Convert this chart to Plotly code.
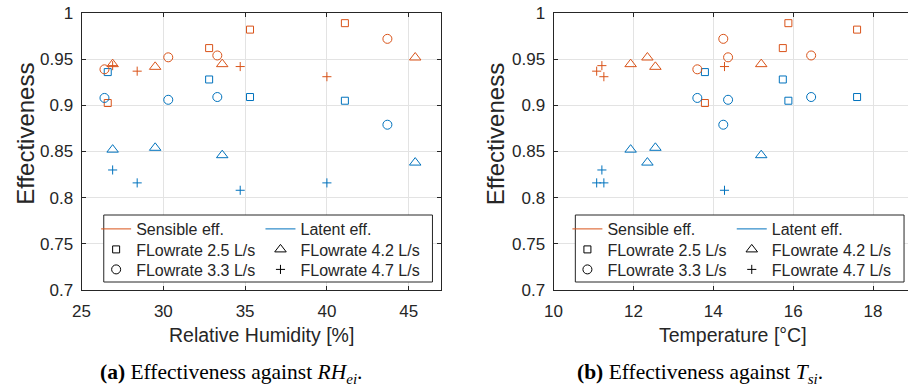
import plotly.graph_objects as go

# ---------------- data ----------------
flow_labels = ["FLowrate 2.5 L/s", "FLowrate 3.3 L/s", "FLowrate 4.2 L/s", "FLowrate 4.7 L/s"]

rh_25 = [26.6, 32.8, 35.3, 41.1]
t_25 = [13.79, 15.74, 17.6, 15.88]
sens_25 = [0.9025, 0.962, 0.982, 0.989]
lat_25 = [0.936, 0.928, 0.909, 0.905]

rh_33 = [26.4, 30.3, 33.3, 43.7]
t_33 = [13.6, 14.37, 16.45, 14.25]
sens_33 = [0.939, 0.952, 0.954, 0.972]
lat_33 = [0.908, 0.906, 0.909, 0.879]

rh_42 = [26.9, 29.5, 33.6, 45.4]
t_42 = [11.93, 12.55, 15.2, 12.35]
sens_42 = [0.9446, 0.9417, 0.9446, 0.9518]
lat_42 = [0.852, 0.854, 0.846, 0.838]

rh_47 = [26.9, 28.4, 34.7, 40.0]
t_47 = [11.21, 11.08, 14.28, 11.26]
sens_47 = [0.943, 0.937, 0.942, 0.931]
lat_47 = [0.830, 0.816, 0.808, 0.816]

y_ticks = [0.7, 0.75, 0.8, 0.85, 0.9, 0.95, 1]
rh_ticks = [25, 30, 35, 40, 45]
t_ticks = [10, 12, 14, 16, 18]

# ---------------- style ----------------
W, H = 908, 389
T_M, B_M = 13, 99
PH = H - T_M - B_M
ORANGE = "#D95319"
BLUE = "#0072BD"
AX = "#262626"
GRID = "#e3e3e3"
SANS = "Liberation Sans, Arial, sans-serif"
SERIF = "Liberation Serif, Times New Roman, serif"

def xp(px):
    return px / W

def yp(py):
    return (H - B_M - py) / PH

groups = [
    (rh_25, t_25, sens_25, lat_25, "square-open", 7),
    (rh_33, t_33, sens_33, lat_33, "circle-open", 9),
    (rh_42, t_42, sens_42, lat_42, "triangle-up-open", 10),
    (rh_47, t_47, sens_47, lat_47, "cross-thin-open", 6.5),
]

fig = go.Figure()

for (rh, t, se, la, sym, sz) in groups:
    for xs, xa in ((rh, "x"), (t, "x2")):
        ya = "y" if xa == "x" else "y2"
        for ys, col in ((se, ORANGE), (la, BLUE)):
            fig.add_trace(go.Scatter(
                x=xs, y=ys, mode="markers", xaxis=xa, yaxis=ya,
                marker=dict(symbol=sym, size=sz, color=col,
                            line=dict(color=col, width=1)),
                showlegend=False, hoverinfo="skip"))

# ---------------- legends (one entry per legend, grid layout) ----------------
entries = [
    ("Sensible eff.", "lines", ORANGE, None, None),
    ("Latent eff.", "lines", BLUE, None, None),
    (flow_labels[0], "markers", "black", "square-open", 7),
    (flow_labels[2], "markers", "black", "triangle-up-open", 10),
    (flow_labels[1], "markers", "black", "circle-open", 9),
    (flow_labels[3], "markers", "black", "cross-thin-open", 6.5),
]
row_py = [229, 249.5, 269.5]
legend_layouts = {}
k = 0
for panel, (x0, xa, ya) in enumerate(((88, "x", "y"), (564, "x2", "y2"))):
    for i, (name, mode, col, sym, sz) in enumerate(entries):
        k += 1
        lname = "legend" if k == 1 else f"legend{k}"
        row, colidx = divmod(i, 2)
        if mode == "lines":
            tr = go.Scatter(x=[None], y=[None], mode="lines", name=name,
                            line=dict(color=col, width=1), xaxis=xa, yaxis=ya,
                            legend=lname, showlegend=True)
        else:
            tr = go.Scatter(x=[None], y=[None], mode="markers", name=name,
                            marker=dict(symbol=sym, size=sz, color=col,
                                        line=dict(color=col, width=1)),
                            xaxis=xa, yaxis=ya, legend=lname, showlegend=True)
        fig.add_trace(tr)
        legend_layouts[lname] = dict(
            x=xp(x0 + colidx * 166), xanchor="left",
            y=yp(row_py[row]), yanchor="middle",
            bgcolor="rgba(0,0,0,0)", borderwidth=0,
            font=dict(family=SANS, size=16, color=AX),
            itemwidth=30, itemclick=False, itemdoubleclick=False)

# legend boxes
shapes = []
for bx0, bx1 in ((95.7, 427.7), (572, 904)):
    shapes.append(dict(type="rect", xref="paper", yref="paper",
                       x0=xp(bx0), x1=xp(bx1), y0=yp(282), y1=yp(215),
                       line=dict(color=AX, width=1), fillcolor="white",
                       layer="above"))

axis_common = dict(showgrid=True, gridcolor=GRID, gridwidth=1, zeroline=False,
                   showline=True, linecolor=AX, linewidth=1,
                   ticks="inside", ticklen=4, tickcolor=AX,
                   tickfont=dict(family=SANS, size=17, color=AX))

fig.update_layout(
    width=W, height=H,
    margin=dict(l=0, r=0, t=T_M, b=B_M, pad=0),
    paper_bgcolor="white", plot_bgcolor="white",
    hovermode=False,
    xaxis=dict(domain=[xp(73.3), xp(436.7)], range=[25, 47], tickvals=rh_ticks,
               anchor="y", mirror="ticks", ticklabelstandoff=6, **axis_common),
    yaxis=dict(domain=[0, 1], range=[0.7, 1], tickvals=y_ticks, anchor="x",
               mirror="ticks", ticklabelstandoff=4, **axis_common),
    xaxis2=dict(domain=[xp(550), 1], range=[10, 18.875], tickvals=t_ticks,
                anchor="y2", mirror="ticks", ticklabelstandoff=6, **axis_common),
    yaxis2=dict(domain=[0, 1], range=[0.7, 1], tickvals=y_ticks, anchor="x2",
                mirror=False, ticklabelstandoff=4, **axis_common),
    shapes=shapes,
    showlegend=True,
    **legend_layouts,
)

annotations = [
    dict(text="Relative Humidity [%]", x=xp(255), y=yp(335), xanchor="center", yanchor="middle",
         font=dict(family=SANS, size=19.5, color=AX)),
    dict(text="Temperature [°C]", x=xp(731.5), y=yp(335), xanchor="center", yanchor="middle",
         font=dict(family=SANS, size=19.5, color=AX)),
    dict(text="Effectiveness", x=xp(16), y=yp(134), xanchor="center", yanchor="middle",
         textangle=-90, font=dict(family=SANS, size=24, color=AX)),
    dict(text="Effectiveness", x=xp(491), y=yp(134), xanchor="center", yanchor="middle",
         textangle=-90, font=dict(family=SANS, size=24, color=AX)),
    dict(text="<b>(a)</b> Effectiveness against <i>RH</i><sub><i>ei</i></sub>.",
         x=xp(90), y=yp(374), xanchor="left", yanchor="middle",
         font=dict(family=SERIF, size=21.5, color="black")),
    dict(text="<b>(b)</b> Effectiveness against <i>T</i><sub><i>si</i></sub>.",
         x=xp(572), y=yp(374), xanchor="left", yanchor="middle",
         font=dict(family=SERIF, size=21.5, color="black")),
]
for a in annotations:
    a.update(xref="paper", yref="paper", showarrow=False)
fig.update_layout(annotations=annotations)

fig.write_html("out.html")
